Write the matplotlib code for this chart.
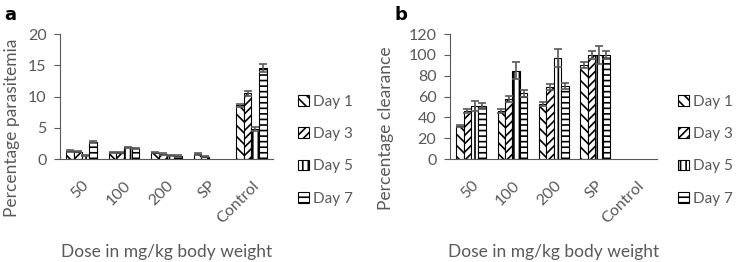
import numpy as np
import matplotlib.pyplot as plt
import matplotlib as mpl

# dados
doses = ['50', '100', '200', 'SP', 'Control']
days = ['Day 1', 'Day 3', 'Day 5', 'Day 7']

paras_d1 = [1.3, 1.1, 1.0, 0.8, 8.6]
paras_d3 = [1.2, 1.0, 0.8, 0.4, 10.5]
paras_d5 = [0.6, 1.9, 0.6, 0.0, 4.8]
paras_d7 = [2.7, 1.7, 0.5, 0.0, 14.6]
paras_e1 = [0.1, 0.1, 0.1, 0.1, 0.2]
paras_e3 = [0.1, 0.1, 0.1, 0.1, 0.4]
paras_e5 = [0.1, 0.1, 0.1, 0.0, 0.3]
paras_e7 = [0.2, 0.1, 0.1, 0.0, 0.6]

clear_d1 = [32, 46, 53, 90, 0]
clear_d3 = [46, 58, 69, 100, 0]
clear_d5 = [51, 85, 97, 100, 0]
clear_d7 = [51, 63, 70, 100, 0]
clear_e1 = [1, 2, 2, 3, 0]
clear_e3 = [2, 3, 3, 4, 0]
clear_e5 = [5, 8, 9, 9, 0]
clear_e7 = [3, 3, 3, 4, 0]

hatches = ['\\\\\\', '////', '|||', '---']
grey = '#595959'
mpl.rcParams['font.family'] = ['Lato', 'DejaVu Sans']
mpl.rcParams['hatch.linewidth'] = 1.2

fig = plt.figure(figsize=(7.37, 2.62), dpi=100)


def panel(rect, vals, errs, ylim, yticks, ylabel, letter, legx, ylabx):
    ax = fig.add_axes(rect)
    x = np.arange(len(doses))
    w = 0.18
    for i in range(4):
        v = np.array(vals[i], dtype=float)
        e = np.array(errs[i], dtype=float)
        lw = np.where(v > 0, 0.8, 0.0)
        xs = x + (i - 1.5) * w
        ax.bar(xs, v, w, color='white', edgecolor='black',
               hatch=hatches[i], linewidth=lw, label=days[i])
        m = v > 0
        ax.errorbar(xs[m], v[m], yerr=e[m], fmt='none', ecolor=grey,
                    elinewidth=1.2, capsize=3, capthick=1.2)
    ax.set_xlim(-0.5, 4.5)
    ax.set_ylim(*ylim)
    ax.set_yticks(yticks)
    ax.set_xticks(x)
    ax.set_xticklabels(doses, rotation=45, ha='right', rotation_mode='anchor')
    ax.tick_params(axis='x', length=0, colors=grey, labelsize=11.5, pad=14)
    ax.tick_params(axis='y', length=4, colors=grey, labelsize=11.5, width=0.8, pad=6)
    for s in ['top', 'right']:
        ax.spines[s].set_visible(False)
    ax.spines['left'].set_color(grey)
    ax.spines['bottom'].set_color(grey)
    ax.set_ylabel(ylabel, color=grey, fontsize=12.5)
    ax.yaxis.set_label_coords(ylabx, 0.25)
    ax.set_xlabel('Dose in mg/kg body weight', color=grey, fontsize=12.5)
    ax.xaxis.set_label_coords(0.5, -0.68)
    fig.text(rect[0] - 0.076, 0.925, letter, fontsize=13, fontweight='bold',
             family='DejaVu Sans')
    leg = ax.legend(loc='center left', bbox_to_anchor=(legx, 0.07),
                    frameon=False, handlelength=0.7, handleheight=0.7,
                    labelspacing=1.2, handletextpad=0.3, fontsize=11,
                    borderaxespad=0, borderpad=0)
    for t in leg.get_texts():
        t.set_color(grey)
    return ax


panel([0.082, 0.393, 0.288, 0.477],
      [paras_d1, paras_d3, paras_d5, paras_d7],
      [paras_e1, paras_e3, paras_e5, paras_e7],
      (0, 20), [0, 5, 10, 15, 20], 'Percentage parasitemia', 'a', 1.12, -0.19)
panel([0.611, 0.393, 0.281, 0.477],
      [clear_d1, clear_d3, clear_d5, clear_d7],
      [clear_e1, clear_e3, clear_e5, clear_e7],
      (0, 120), [0, 20, 40, 60, 80, 100, 120], 'Percentage clearance', 'b', 1.1, -0.27)

fig.savefig('out.png', dpi=100)
